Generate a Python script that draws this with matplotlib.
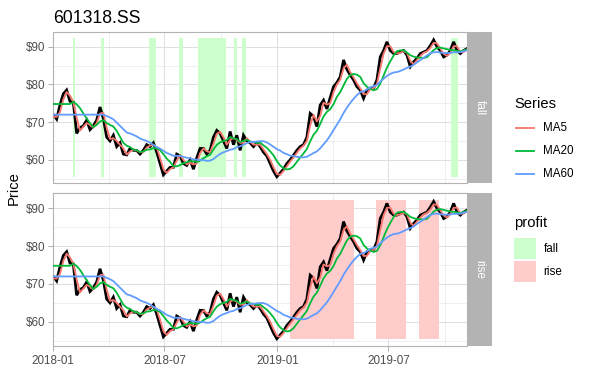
import matplotlib
matplotlib.use("Agg")
import matplotlib.pyplot as plt
import matplotlib.dates as mdates
from matplotlib.lines import Line2D
from matplotlib.patches import Rectangle
import pandas as pd

# ---------------- data ----------------
title = "601318.SS"
start_date = "2018-01-01"
end_date = "2019-11-06"
close = [
    72.0, 70.8, 74.5, 77.5, 78.5, 75.5, 75.3, 67.0, 68.5, 69.0,
    70.5, 68.0, 69.0, 70.5, 74.0, 71.0, 66.0, 65.0, 66.5, 63.5,
    64.5, 61.5, 61.3, 63.0, 62.5, 62.5, 61.5, 62.5, 64.0, 63.5,
    64.5, 62.0, 59.0, 56.0, 57.0, 58.0, 58.0, 61.5, 61.0, 59.0,
    58.5, 60.0, 57.5, 60.5, 63.0, 63.0, 61.5, 62.5, 66.0, 67.8,
    67.0, 65.0, 63.0, 67.5, 64.0, 66.5, 62.5, 66.5, 65.0, 64.5,
    63.5, 64.5, 63.5, 62.0, 61.0, 59.0, 57.0, 55.5, 56.5, 57.5,
    59.0, 60.0, 61.2, 62.5, 63.5, 64.0, 66.0, 72.3, 71.5, 68.8,
    74.5, 75.8, 73.5, 76.5, 79.4, 80.5, 82.0, 86.5, 84.0, 82.5,
    81.2, 79.4, 78.5, 76.3, 78.5, 79.0, 79.0, 81.2, 87.3, 89.0,
    91.3, 89.0, 88.2, 88.2, 88.6, 89.0, 87.8, 84.7, 86.0, 86.9,
    88.2, 88.6, 89.0, 90.3, 91.8, 90.0, 89.0, 87.3, 87.8, 89.0,
    91.3, 89.0, 88.2, 89.0, 89.5,
]
series_names = ["MA5", "MA20", "MA60"]
series_windows = [2, 6, 16]          # samples (~5.4 calendar days each)
series_colors = ["#F8766D", "#00BA38", "#619CFF"]

fall_starts = ["2018-02-02", "2018-03-19", "2018-06-06", "2018-07-24",
               "2018-08-25", "2018-10-22", "2018-11-04", "2019-10-11"]
fall_ends = ["2018-02-05", "2018-03-25", "2018-06-17", "2018-07-31",
             "2018-10-09", "2018-10-27", "2018-11-11", "2019-10-22"]
rise_starts = ["2019-01-22", "2019-06-10", "2019-08-20"]
rise_ends = ["2019-05-06", "2019-07-29", "2019-09-22"]
band_low, band_high = 55.4, 92.3
panel_labels = ["fall", "rise"]
profit_labels = ["fall", "rise"]
profit_colors = ["#CCFFCC", "#FFCCCC"]

# ---------------- figure ----------------
W, H = 589, 392
fig = plt.figure(figsize=(W / 100, H / 100), dpi=100)
plt.rcParams["font.family"] = ["Liberation Sans", "DejaVu Sans"]


def fx(x):
    return x / W


def fy(y):
    return 1 - y / H


dates = pd.date_range(start_date, end_date, periods=len(close))
s = pd.Series(close, index=dates)
mas = [s.rolling(w).mean().bfill() for w in series_windows]

left, right = 53.3, 467.0
panels = [(31.5, 183.5), (193.0, 345.5)]
grey70 = "#B3B3B3"

spans = [list(zip(fall_starts, fall_ends)), list(zip(rise_starts, rise_ends))]

for i, (top, bot) in enumerate(panels):
    ax = fig.add_axes([fx(left), fy(bot), fx(right) - fx(left), (bot - top) / H])
    for a, b in spans[i]:
        ax.fill_between(pd.to_datetime([a, b]), band_low, band_high,
                        color=profit_colors[i], lw=0, zorder=1)
    ax.plot(dates, close, color="black", lw=2.0, zorder=2,
            solid_joinstyle="miter")
    for ma, c in zip(mas, series_colors):
        ax.plot(dates, ma.values, color=c, lw=1.3, zorder=3)
    ax.set_xlim(pd.Timestamp(start_date), pd.Timestamp(end_date))
    ax.set_ylim(53.7, 94.05)
    ax.set_yticks([60, 70, 80, 90])
    ax.set_yticklabels(["$60", "$70", "$80", "$90"])
    ax.set_yticks([55, 65, 75, 85], minor=True)
    ax.xaxis.set_major_locator(mdates.MonthLocator(bymonth=[1, 7]))
    ax.xaxis.set_minor_locator(mdates.MonthLocator(bymonth=[4, 10]))
    ax.xaxis.set_major_formatter(mdates.DateFormatter("%Y-%m"))
    ax.grid(which="major", color="#DEDEDE", lw=0.7, zorder=0)
    ax.grid(which="minor", color="#E6E6E6", lw=0.45, zorder=0)
    ax.set_axisbelow(True)
    for sp in ax.spines.values():
        sp.set_color(grey70)
        sp.set_linewidth(0.8)
    ax.tick_params(axis="y", which="major", colors="#A0A0A0", labelcolor="#4D4D4D",
                   labelsize=8.4, length=3.6, width=0.6, pad=2.4)
    ax.tick_params(axis="y", which="minor", length=0)
    ax.tick_params(axis="x", which="minor", length=0)
    if i == 0:
        ax.tick_params(axis="x", which="major", length=0, labelbottom=False)
    else:
        ax.tick_params(axis="x", which="major", colors="#A0A0A0", labelcolor="#4D4D4D",
                       labelsize=8.4, length=3.6, width=0.6, pad=3.2)
    # facet strip
    sax = fig.add_axes([fx(right), fy(bot), fx(492) - fx(right), (bot - top) / H])
    sax.set_facecolor(grey70)
    for sp in sax.spines.values():
        sp.set_visible(False)
    sax.set_xticks([])
    sax.set_yticks([])
    sax.text(0.5, 0.5, panel_labels[i], color="white", rotation=270,
             ha="center", va="center", fontsize=8.6, transform=sax.transAxes)

# titles
fig.text(fx(53), fy(22.6), title, fontsize=12.7, ha="left", va="baseline",
         color="black")
fig.text(fx(14), fy(188.5), "Price", fontsize=10.6, rotation=90,
         ha="center", va="center", color="black")

# legend: Series
fig.text(fx(514), fy(104), "Series", fontsize=10.6, ha="left", va="center")
for k, (name, c) in enumerate(zip(series_names, series_colors)):
    yy = 127.7 + k * 23.3
    fig.add_artist(Line2D([fx(515.5), fx(534)], [fy(yy), fy(yy)], color=c,
                          lw=1.3, transform=fig.transFigure))
    fig.text(fx(543.5), fy(yy), name, fontsize=8.4, ha="left", va="center")

# legend: profit
fig.text(fx(514), fy(223.3), "profit", fontsize=10.6, ha="left", va="center")
for k, (name, c) in enumerate(zip(profit_labels, profit_colors)):
    y0 = 238 + k * 23.2
    fig.add_artist(Rectangle((fx(514), fy(y0 + 21)), fx(536) - fx(514), 21 / H,
                             facecolor=c, edgecolor="none",
                             transform=fig.transFigure))
    fig.text(fx(543.5), fy(y0 + 10.5), name, fontsize=8.4, ha="left", va="center")

fig.savefig("out.png", dpi=100)
